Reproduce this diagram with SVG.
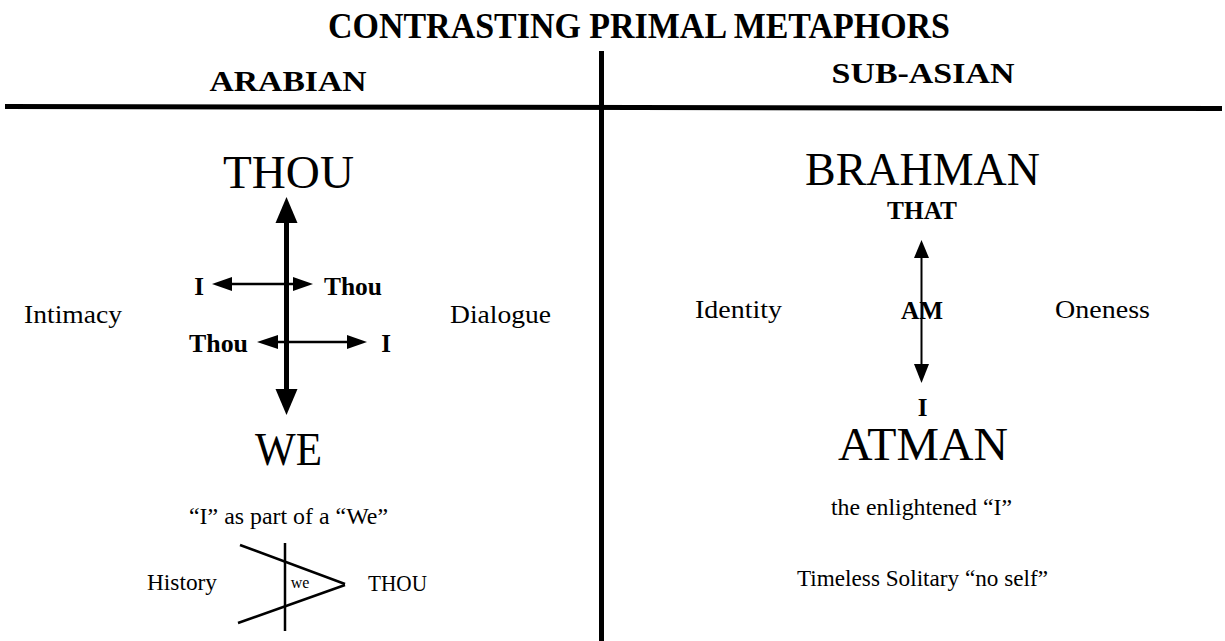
<svg xmlns="http://www.w3.org/2000/svg" width="1225" height="641" viewBox="0 0 1225 641">
<style>
text{font-family:"Liberation Serif","Times New Roman",serif;fill:#000}
.b{font-weight:bold}
.big{font-size:46px}
.reg{font-size:26px}
.sm{font-size:23px}
.lbl{font-size:25px;font-weight:bold}
.ln{stroke:#000;fill:none}
</style>
<rect width="1225" height="641" fill="#fff"/>
<g id="frame">
<line class="ln" x1="5" y1="106.5" x2="1222" y2="108.5" stroke-width="5"/>
<line class="ln" x1="601.5" y1="51" x2="601.5" y2="641" stroke-width="5"/>
</g>
<g id="headings">
<text class="b" x="639" y="38" font-size="36" text-anchor="middle" textLength="622" lengthAdjust="spacingAndGlyphs">CONTRASTING PRIMAL METAPHORS</text>
<text class="b" x="288" y="91" font-size="30" text-anchor="middle" textLength="157" lengthAdjust="spacingAndGlyphs">ARABIAN</text>
<text class="b" x="923" y="83" font-size="30" text-anchor="middle" textLength="183" lengthAdjust="spacingAndGlyphs">SUB-ASIAN</text>
</g>
<g id="connectors">
<line class="ln" x1="286.5" y1="220" x2="286.5" y2="392" stroke-width="5"/>
<path d="M286.5,197 L297.5,223 L275.5,223 z" fill="#000"/>
<path d="M286.5,415 L297.5,389 L275.5,389 z" fill="#000"/>
<line class="ln" x1="230" y1="284" x2="296" y2="284" stroke-width="2.5"/>
<path d="M212,284 L232,277 L232,291 z" fill="#000"/>
<path d="M313,284 L293,277 L293,291 z" fill="#000"/>
<line class="ln" x1="276" y1="342" x2="350" y2="342" stroke-width="2.5"/>
<path d="M257,342 L278,335 L278,349 z" fill="#000"/>
<path d="M367,342 L347,335 L347,349 z" fill="#000"/>
<line class="ln" x1="921.5" y1="255" x2="921.5" y2="367" stroke-width="2"/>
<path d="M921.5,240 L929,258 L914,258 z" fill="#000"/>
<path d="M921.5,383 L929,364 L914,364 z" fill="#000"/>
<line class="ln" x1="240" y1="545" x2="345" y2="584" stroke-width="2.5"/>
<line class="ln" x1="238" y1="623" x2="345" y2="585" stroke-width="2.5"/>
<line class="ln" x1="285" y1="543" x2="285" y2="631" stroke-width="2.5"/>
</g>
<g id="n-thou"><text class="big" x="288.5" y="188" text-anchor="middle" textLength="131" lengthAdjust="spacingAndGlyphs">THOU</text></g>
<g id="n-we"><text class="big" x="288.5" y="465" text-anchor="middle" textLength="67" lengthAdjust="spacingAndGlyphs">WE</text></g>
<g id="n-i1"><text class="lbl" x="199" y="295" text-anchor="middle">I</text></g>
<g id="n-thou1"><text class="lbl" x="324" y="295" textLength="58" lengthAdjust="spacingAndGlyphs">Thou</text></g>
<g id="n-thou2"><text class="lbl" x="189" y="352" textLength="59" lengthAdjust="spacingAndGlyphs">Thou</text></g>
<g id="n-i2"><text class="lbl" x="386" y="352" text-anchor="middle">I</text></g>
<g id="n-intimacy"><text class="reg" x="24" y="323" textLength="98" lengthAdjust="spacingAndGlyphs">Intimacy</text></g>
<g id="n-dialogue"><text class="reg" x="450" y="323" textLength="101" lengthAdjust="spacingAndGlyphs">Dialogue</text></g>
<g id="n-ipartwe"><text class="sm" x="288.5" y="524" text-anchor="middle" textLength="199" lengthAdjust="spacingAndGlyphs">“I” as part of a “We”</text></g>
<g id="n-history"><text class="sm" x="147" y="590" textLength="70" lengthAdjust="spacingAndGlyphs">History</text></g>
<g id="n-we-small"><text x="300" y="588" font-size="16" text-anchor="middle">we</text></g>
<g id="n-thou-small"><text class="sm" x="368" y="591" textLength="59" lengthAdjust="spacingAndGlyphs">THOU</text></g>
<g id="n-brahman"><text class="big" x="922.5" y="185" text-anchor="middle" textLength="235" lengthAdjust="spacingAndGlyphs">BRAHMAN</text></g>
<g id="n-that"><text class="lbl" x="922" y="219" text-anchor="middle" textLength="70" lengthAdjust="spacingAndGlyphs">THAT</text></g>
<g id="n-am"><text class="lbl" x="922" y="319" text-anchor="middle" textLength="42" lengthAdjust="spacingAndGlyphs">AM</text></g>
<g id="n-identity"><text class="reg" x="695" y="318" textLength="87" lengthAdjust="spacingAndGlyphs">Identity</text></g>
<g id="n-oneness"><text class="reg" x="1055" y="318" textLength="95" lengthAdjust="spacingAndGlyphs">Oneness</text></g>
<g id="n-i3"><text class="lbl" x="922.5" y="416" text-anchor="middle">I</text></g>
<g id="n-atman"><text class="big" x="923" y="460" text-anchor="middle" textLength="170" lengthAdjust="spacingAndGlyphs">ATMAN</text></g>
<g id="n-enlightened"><text class="sm" x="921.5" y="515" text-anchor="middle" textLength="181" lengthAdjust="spacingAndGlyphs">the enlightened “I”</text></g>
<g id="n-timeless"><text class="sm" x="922.5" y="586" text-anchor="middle" textLength="251" lengthAdjust="spacingAndGlyphs">Timeless Solitary “no self”</text></g>
</svg>
